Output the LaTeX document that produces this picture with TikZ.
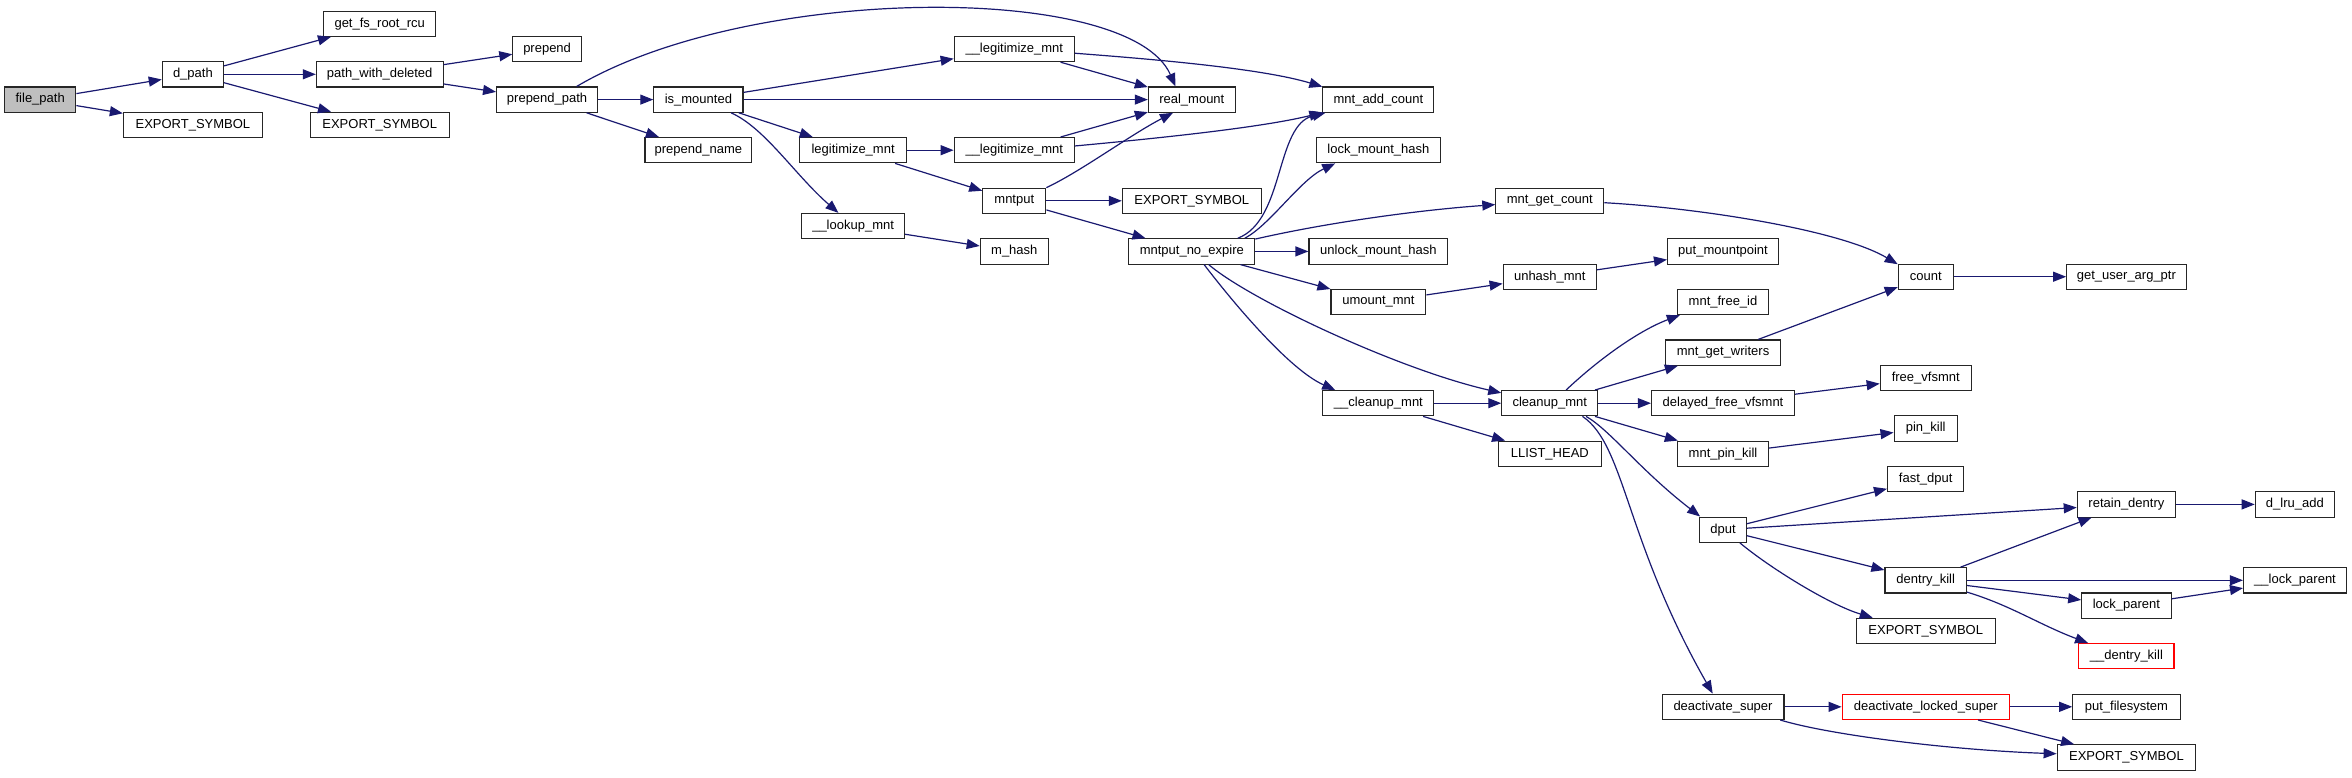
\documentclass[tikz,border=0pt]{standalone}
\usepackage{fontspec}
\setmainfont{Liberation Sans}
\usetikzlibrary{arrows.meta}
\definecolor{edgeblue}{HTML}{191970}
\definecolor{nodegray}{HTML}{BFBFBF}
\tikzset{
  box/.style={draw=black!85, line width=1.1pt, inner sep=0pt, minimum height=25.3pt,
    font=\fontsize{13}{15}\selectfont, text=black, fill=white},
  hlbox/.style={box, draw=red},
  rootbox/.style={box, fill=nodegray},
  edge/.style={draw=edgeblue, line width=1.2pt, -{Triangle[length=13pt,width=10pt]}}
}
\begin{document}
\begin{tikzpicture}[x=1pt,y=-1pt]
\useasboundingbox (0,0) rectangle (2352,777);
% nodes
\node[rootbox, minimum width=71.2pt] (fp) at (40.2,99.6) {file\_path};
\node[box, minimum width=139pt] (exA) at (192.9,124.9) {EXPORT\_SYMBOL};
\node[box, minimum width=61.2pt] (dpath) at (192.9,74.3) {d\_path};
\node[box, minimum width=112pt] (getfs) at (379.7,23.7) {get\_fs\_root\_rcu};
\node[box, minimum width=126.7pt] (pwd) at (379.7,74.3) {path\_with\_deleted};
\node[box, minimum width=138.8pt] (exB) at (379.7,124.9) {EXPORT\_SYMBOL};
\node[box, minimum width=68.5pt] (prepend) at (547.1,49.0) {prepend};
\node[box, minimum width=101pt] (ppath) at (547.1,99.6) {prepend\_path};
\node[box, minimum width=89.2pt] (ism) at (698.4,99.6) {is\_mounted};
\node[box, minimum width=106.8pt] (pname) at (698.4,150.2) {prepend\_name};
\node[box, minimum width=120.2pt] (legA) at (1014.3,49.0) {\_\_legitimize\_mnt};
\node[box, minimum width=86.9pt] (realm) at (1191.8,99.6) {real\_mount};
\node[box, minimum width=106.8pt] (legit) at (853.1,150.2) {legitimize\_mnt};
\node[box, minimum width=120.2pt] (legB) at (1014.3,150.2) {\_\_legitimize\_mnt};
\node[box, minimum width=63.1pt] (mntput) at (1014.3,200.8) {mntput};
\node[box, minimum width=138.9pt] (exC) at (1191.8,200.8) {EXPORT\_SYMBOL};
\node[box, minimum width=103pt] (lookup) at (853.1,226.1) {\_\_lookup\_mnt};
\node[box, minimum width=68.1pt] (mhash) at (1014.3,251.4) {m\_hash};
\node[box, minimum width=125.9pt] (mne) at (1191.8,251.4) {mntput\_no\_expire};
\node[box, minimum width=111pt] (addc) at (1378.4,99.6) {mnt\_add\_count};
\node[box, minimum width=124pt] (lockh) at (1378.4,150.2) {lock\_mount\_hash};
\node[box, minimum width=107.9pt] (getc) at (1549.8,200.8) {mnt\_get\_count};
\node[box, minimum width=138.9pt] (unlockh) at (1378.4,251.4) {unlock\_mount\_hash};
\node[box, minimum width=111pt] (putmp) at (1723,251.4) {put\_mountpoint};
\node[box, minimum width=94.9pt] (umount) at (1378.4,302.0) {umount\_mnt};
\node[box, minimum width=93.3pt] (unhash) at (1549.8,276.7) {unhash\_mnt};
\node[box, minimum width=91.1pt] (freeid) at (1723,302.0) {mnt\_free\_id};
\node[box, minimum width=114.8pt] (getw) at (1723,352.6) {mnt\_get\_writers};
\node[box, minimum width=111pt] (ccl) at (1378.4,403.2) {\_\_cleanup\_mnt};
\node[box, minimum width=96pt] (cleanup) at (1549.8,403.2) {cleanup\_mnt};
\node[box, minimum width=143pt] (dfv) at (1723,403.2) {delayed\_free\_vfsmnt};
\node[box, minimum width=102.5pt] (llist) at (1549.8,453.8) {LLIST\_HEAD};
\node[box, minimum width=91.1pt] (mpk) at (1723,453.8) {mnt\_pin\_kill};
\node[box, minimum width=54.9pt] (count) at (1925.7,276.7) {count};
\node[box, minimum width=119.4pt] (guap) at (2126.4,276.7) {get\_user\_arg\_ptr};
\node[box, minimum width=91pt] (freev) at (1925.7,377.9) {free\_vfsmnt};
\node[box, minimum width=63.3pt] (pink) at (1925.7,428.5) {pin\_kill};
\node[box, minimum width=76.4pt] (fastd) at (1925.7,479.1) {fast\_dput};
\node[box, minimum width=98.3pt] (retain) at (2126.4,504.4) {retain\_dentry};
\node[box, minimum width=79.1pt] (dlru) at (2294.8,504.4) {d\_lru\_add};
\node[box, minimum width=46.5pt] (dput) at (1723,529.7) {dput};
\node[box, minimum width=121.9pt] (deacts) at (1723,706.8) {deactivate\_super};
\node[box, minimum width=81.5pt] (dkill) at (1925.7,580.3) {dentry\_kill};
\node[box, minimum width=138.9pt] (exD) at (1925.7,630.9) {EXPORT\_SYMBOL};
\node[box, minimum width=89.4pt] (lockp) at (2126.4,605.6) {lock\_parent};
\node[box, minimum width=103pt] (ulockp) at (2295,580.3) {\_\_lock\_parent};
\node[hlbox, minimum width=95.2pt] (udkill) at (2126.4,656.2) {\_\_dentry\_kill};
\node[hlbox, minimum width=167.2pt] (dls) at (1925.7,706.8) {deactivate\_locked\_super};
\node[box, minimum width=107.3pt] (putfs) at (2126.4,706.8) {put\_filesystem};
\node[box, minimum width=138.5pt] (exE) at (2126.4,757.4) {EXPORT\_SYMBOL};
% edges
\draw[edge] (fp) -- (dpath);
\draw[edge] (fp) -- (exA);
\draw[edge] (dpath) -- (getfs);
\draw[edge] (dpath) -- (pwd);
\draw[edge] (dpath) -- (exB);
\draw[edge] (pwd) -- (prepend);
\draw[edge] (pwd) -- (ppath);
\draw[edge] (ppath.24) .. controls (750,-16) and (1130,-18) .. (realm.141);
\draw[edge] (ppath) -- (ism);
\draw[edge] (ppath) -- (pname);
\draw[edge] (ism) -- (legA);
\draw[edge] (ism) -- (realm);
\draw[edge] (ism) -- (legit);
\draw[edge] (ism.-22) .. controls (765,128) and (795,175) .. (lookup.138);
\draw[edge] (legA) -- (realm);
\draw[edge] (legA.-4) .. controls (1150,59) and (1260,68) .. (addc.167);
\draw[edge] (legit) -- (legB);
\draw[edge] (legit) -- (mntput);
\draw[edge] (legB) -- (realm);
\draw[edge] (legB.4) .. controls (1150,139) and (1260,128) .. (addc.193);
\draw[edge] (mntput.north east) .. controls (1080,172) and (1130,135) .. (realm.215);
\draw[edge] (mntput) -- (exC);
\draw[edge] (mntput) -- (mne);
\draw[edge] (lookup) -- (mhash);
\draw[edge] (mne.16) .. controls (1285,220) and (1275,125) .. (addc.194);
\draw[edge] (mne.14) .. controls (1270,225) and (1300,180) .. (lockh.197);
\draw[edge] (mne.11) .. controls (1330,222) and (1420,210) .. (getc.184);
\draw[edge] (mne) -- (unlockh);
\draw[edge] (mne) -- (umount);
\draw[edge] (mne.-38) .. controls (1250,300) and (1400,370) .. (cleanup.168);
\draw[edge] (mne.-47) .. controls (1235,305) and (1290,370) .. (ccl.163);
\draw[edge] (getc.-2) .. controls (1700,208) and (1840,230) .. (count.156);
\draw[edge] (umount) -- (unhash);
\draw[edge] (unhash) -- (putmp);
\draw[edge] (count) -- (guap);
\draw[edge] (ccl) -- (cleanup);
\draw[edge] (ccl) -- (llist);
\draw[edge] (cleanup.39) .. controls (1600,358) and (1640,330) .. (freeid.197);
\draw[edge] (cleanup) -- (getw);
\draw[edge] (cleanup) -- (dfv);
\draw[edge] (cleanup) -- (mpk);
\draw[edge] (cleanup.-20) .. controls (1610,430) and (1640,470) .. (dput.150);
\draw[edge] (cleanup.-22) .. controls (1625,445) and (1625,540) .. (deacts.128);
\draw[edge] (getw) -- (count);
\draw[edge] (dfv) -- (freev);
\draw[edge] (mpk) -- (pink);
\draw[edge] (dput) -- (fastd);
\draw[edge] (dput) -- (retain);
\draw[edge] (dput) -- (dkill);
\draw[edge] (dput.-38) .. controls (1770,568) and (1830,605) .. (exD.166);
\draw[edge] (retain) -- (dlru);
\draw[edge] (dkill) -- (retain);
\draw[edge] (dkill) -- (ulockp);
\draw[edge] (dkill) -- (lockp);
\draw[edge] (dkill.-16) .. controls (2010,605) and (2040,625) .. (udkill.161);
\draw[edge] (lockp) -- (ulockp);
\draw[edge] (deacts) -- (dls);
\draw[edge] (deacts.-13) .. controls (1830,735) and (1950,750) .. (exE.177);
\draw[edge] (dls) -- (putfs);
\draw[edge] (dls) -- (exE);
\end{tikzpicture}
\end{document}
